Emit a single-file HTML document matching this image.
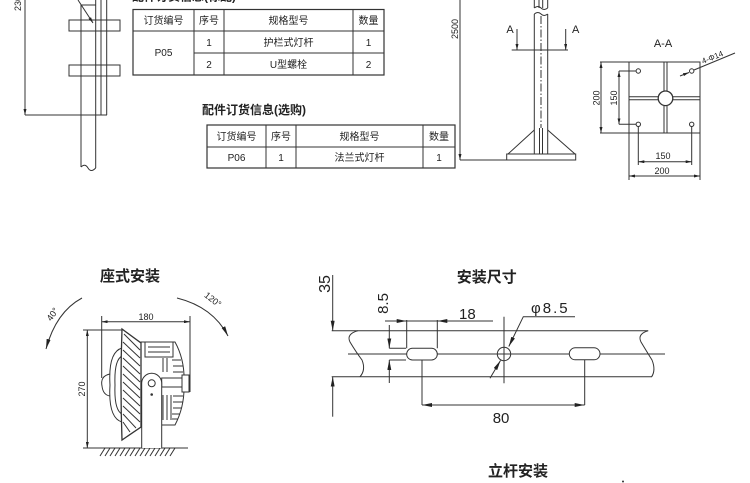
<!DOCTYPE html>
<html><head><meta charset="utf-8"><style>
html,body{margin:0;padding:0;background:#fff;}
svg{display:block;}
text{font-family:"Liberation Sans","Noto Sans CJK SC",sans-serif;fill:#222;}
</style></head><body>
<svg width="750" height="483" viewBox="0 0 750 483" xmlns="http://www.w3.org/2000/svg">
<defs>
<marker id="a" viewBox="0 0 10 4" refX="10" refY="2" markerWidth="10" markerHeight="4" orient="auto-start-reverse" markerUnits="userSpaceOnUse"><path d="M0,0L10,2L0,4z" fill="#222"/></marker>
<marker id="s" viewBox="0 0 6 3" refX="6" refY="1.5" markerWidth="6" markerHeight="3" orient="auto-start-reverse" markerUnits="userSpaceOnUse"><path d="M0,0L6,1.5L0,3z" fill="#222"/></marker>
</defs>

<g stroke="#333" stroke-width="1" fill="none">
<!-- top-left pole -->
<line x1="25" y1="0" x2="25" y2="115" marker-end="url(#s)"/>
<line x1="25" y1="115" x2="107" y2="115"/>
<path d="M81,167 V5 H95.7 M95.7,0 V168"/>
<path d="M101,0 V115 M106.7,0 V115"/>
<rect x="69" y="20" width="51" height="11"/>
<rect x="69" y="65" width="51" height="11"/>
<line x1="78" y1="0" x2="93" y2="23" marker-end="url(#s)"/>
<path d="M81,167 Q85,163 88,168 Q91,173 95.7,168"/>

<!-- table 1 -->
<rect x="133" y="9.5" width="251" height="65.5" stroke-width="1.2"/>
<line x1="133" y1="31" x2="384" y2="31"/>
<line x1="194" y1="53" x2="384" y2="53"/>
<line x1="194" y1="9.5" x2="194" y2="75"/>
<line x1="224" y1="9.5" x2="224" y2="75"/>
<line x1="353" y1="9.5" x2="353" y2="75"/>

<!-- table 2 -->
<rect x="207" y="125" width="248" height="43" stroke-width="1.2"/>
<line x1="207" y1="147" x2="455" y2="147"/>
<line x1="266" y1="125" x2="266" y2="168"/>
<line x1="296" y1="125" x2="296" y2="168"/>
<line x1="423" y1="125" x2="423" y2="168"/>

<!-- 2500 pole -->
<line x1="460" y1="0" x2="460" y2="160" marker-end="url(#s)"/>
<line x1="460" y1="160" x2="575.7" y2="160"/>
<path d="M534.3,0 V8 M547.7,0 V8 M539,0 V8 M542.7,0 V8"/>
<path d="M534.3,8 Q538,5 541,8 Q544,11 547.7,8"/>
<path d="M534.3,14 Q538,11 541,14 Q544,17 547.7,14"/>
<path d="M534.3,14 V154 M547.7,14 V154"/>
<line x1="541" y1="16" x2="541" y2="128" stroke-dasharray="8 2 1.5 2"/>
<path d="M539.5,128 V154 M542.5,128 V154"/>
<path d="M534.3,130 L508,154 M547.7,130 L575,154"/>
<rect x="506.7" y="154" width="69" height="6"/>
<line x1="511.7" y1="50" x2="568" y2="50"/>
<line x1="517" y1="29" x2="517" y2="50" marker-end="url(#s)"/>
<line x1="565.7" y1="29" x2="565.7" y2="50" marker-end="url(#s)"/>

<!-- A-A section -->
<rect x="629" y="62" width="71" height="71"/>
<line x1="600" y1="62" x2="629" y2="62"/>
<line x1="600" y1="133" x2="629" y2="133"/>
<path d="M664,62 V133 M667,62 V133 M629,96.8 H700 M629,99.8 H700"/>
<circle cx="665.5" cy="98.3" r="7.3" fill="#fff" stroke-width="1.3"/>
<circle cx="638.3" cy="71" r="2.2"/>
<circle cx="691.7" cy="71" r="2.2"/>
<circle cx="638.3" cy="124.3" r="2.2"/>
<circle cx="691.7" cy="124.3" r="2.2"/>
<line x1="601" y1="62" x2="601" y2="133" marker-start="url(#s)" marker-end="url(#s)"/>
<line x1="619" y1="71" x2="619" y2="124.3" marker-start="url(#s)" marker-end="url(#s)"/>
<path d="M619,71 H636 M619,124.3 H636"/>
<path d="M638.3,126.5 V165 M691.7,126.5 V165"/>
<line x1="638.3" y1="161.7" x2="691.7" y2="161.7" marker-start="url(#s)" marker-end="url(#s)"/>
<path d="M629,133 V180 M700,133 V180"/>
<line x1="629" y1="176" x2="700" y2="176" marker-start="url(#s)" marker-end="url(#s)"/>
<line x1="680" y1="76" x2="689" y2="72.5" marker-end="url(#s)"/>
<line x1="694" y1="70" x2="735" y2="53"/>

<!-- lamp (座式安装) -->
<path d="M82,298 Q56,312 46,349" marker-end="url(#a)"/>
<path d="M177,298 Q213,307 228,336" marker-end="url(#a)"/>
<line x1="101.7" y1="321.7" x2="190" y2="321.7" marker-start="url(#s)" marker-end="url(#s)"/>
<path d="M101.7,316 V378 M190,316 V392"/>
<line x1="87.3" y1="330" x2="87.3" y2="448" marker-start="url(#s)" marker-end="url(#s)"/>
<line x1="83" y1="330" x2="122" y2="330"/>
<line x1="83" y1="448" x2="188" y2="448"/>
<path d="M100,456 L105,448 M105,456 L110,448 M110,456 L115,448 M115,456 L120,448 M120,456 L125,448 M125,456 L130,448 M130,456 L135,448 M135,456 L140,448 M140,456 L145,448 M145,456 L150,448 M150,456 L155,448 M155,456 L160,448 M160,456 L165,448 M165,456 L170,448 M170,456 L175,448"/>
<!-- housing -->
<path d="M141,342 H175 Q185,360 184,383 Q185,406 175,425 H141 Z" fill="#fff"/>
<rect x="145" y="342" width="28" height="15"/>
<path d="M148,347 H170 M148,352 H170"/>
<path d="M172,360 H181 M173,366 H183 M173,372 H183 M173,396 H183 M173,402 H183 M173,408 H182 M172,414 H180 M172,419 H178"/>
<path d="M163,358 V372 M167,358 V372 M163,395 V420 M167,395 V420 M171,395 V420"/>
<!-- bowl + dome -->
<path d="M122,348 Q108,352 110,385 Q108,418 122,422"/>
<path d="M122,356 Q114,360 115,385 Q114,410 122,414"/>
<path d="M110,374 Q100,376 102,386 Q103,395 110,396"/>
<!-- reflector -->
<path d="M122,329 Q120,385 122,440 L141,427 L141,343 Z" fill="#fff" stroke-width="1.3"/>
<path d="M124,334 L140,350 M123,342 L140,358 M123,350 L140,366 M123,358 L140,374 M123,366 L140,382 M123,374 L140,390 M123,382 L140,398 M123,390 L140,406 M123,398 L140,414 M123,406 L140,422 M123,414 L136,428 M123,422 L130,432"/>
<!-- knob -->
<rect x="161.7" y="378" width="22" height="9" fill="#fff"/>
<rect x="182" y="375" width="7" height="17" fill="#fff"/>
<!-- bracket -->
<path d="M141.7,448 V383.3 A10,10 0 0 1 161.7,383.3 V448" fill="#fff"/>
<circle cx="151.7" cy="383.3" r="3.5"/>
<circle cx="151.7" cy="394.5" r="0.8" fill="#333"/>

<!-- 安装尺寸 -->
<path d="M331.7,330.7 H648 M331.7,376.7 H652"/>
<line x1="348" y1="354" x2="665" y2="354"/>
<path d="M358,330.7 Q346,334 350,342 Q356,352 362,360 Q366,370 360,376.7"/>
<path d="M648.3,330.7 Q637,334 641,342 Q647,352 652,360 Q656,370 651.7,376.7"/>
<line x1="332.7" y1="275" x2="332.7" y2="330.7" marker-end="url(#a)"/>
<line x1="332.7" y1="416.7" x2="332.7" y2="376.7" marker-end="url(#a)"/>
<rect x="406.7" y="348.3" width="30.6" height="11.7" rx="5.8" fill="#fff"/>
<rect x="569.3" y="347.8" width="30.7" height="12" rx="6" fill="#fff"/>
<path d="M406.7,320 V348.3 M437.3,320 V348.3"/>
<line x1="385" y1="321" x2="493" y2="321"/>
<line x1="395" y1="321" x2="406.7" y2="321" marker-end="url(#a)"/>
<line x1="450" y1="321" x2="437.3" y2="321" marker-end="url(#a)"/>
<line x1="389.3" y1="325" x2="389.3" y2="348.3" marker-end="url(#a)"/>
<line x1="389.3" y1="383" x2="389.3" y2="360" marker-end="url(#a)"/>
<path d="M389.3,348.3 H406 M389.3,360 H406"/>
<path d="M422,360 V405 M584.7,360 V405"/>
<line x1="422" y1="405" x2="584.7" y2="405" marker-start="url(#a)" marker-end="url(#a)"/>
<circle cx="504" cy="354" r="6.7"/>
<line x1="504" y1="316.7" x2="504" y2="383.3"/>
<path d="M575,316.7 H523.3 L508.8,346.5" marker-end="url(#a)"/>
<line x1="490" y1="378.3" x2="500.5" y2="360.5" marker-end="url(#a)"/>
</g>

<!-- texts -->
<text transform="translate(21,11) rotate(-90)" font-size="9">2300</text>
<text x="132" y="0.5" font-size="12" font-weight="bold">配件订货信息(标配)</text>
<g font-size="10" text-anchor="middle">
<text x="163.5" y="24" fill="#555">订货编号</text>
<text x="209" y="24" fill="#555">序号</text>
<text x="288.5" y="24" fill="#555">规格型号</text>
<text x="368.5" y="24" fill="#555">数量</text>
<text x="163.5" y="56">P05</text>
<text x="209" y="46">1</text>
<text x="288.5" y="46">护栏式灯杆</text>
<text x="368.5" y="46">1</text>
<text x="209" y="68">2</text>
<text x="288.5" y="68">U型螺栓</text>
<text x="368.5" y="68">2</text>
<text x="236.5" y="140" fill="#555">订货编号</text>
<text x="281" y="140" fill="#555">序号</text>
<text x="359.5" y="140" fill="#555">规格型号</text>
<text x="439" y="140" fill="#555">数量</text>
<text x="236.5" y="161">P06</text>
<text x="281" y="161">1</text>
<text x="359.5" y="161">法兰式灯杆</text>
<text x="439" y="161">1</text>
</g>
<text x="202" y="114" font-size="12" font-weight="bold">配件订货信息(选购)</text>

<text transform="translate(458,29) rotate(-90)" font-size="9" text-anchor="middle">2500</text>
<text x="510" y="33" font-size="11" text-anchor="middle">A</text>
<text x="575.7" y="33" font-size="11" text-anchor="middle">A</text>
<text x="663" y="47" font-size="11" text-anchor="middle">A-A</text>
<text transform="translate(599.5,98) rotate(-90)" font-size="9" text-anchor="middle">200</text>
<text transform="translate(617,98) rotate(-90)" font-size="9" text-anchor="middle">150</text>
<text x="663" y="159" font-size="9" text-anchor="middle">150</text>
<text x="662" y="174" font-size="9" text-anchor="middle">200</text>
<text transform="translate(703,64) rotate(-22)" font-size="8">4-Φ14</text>

<text x="100" y="281" font-size="15" font-weight="bold">座式安装</text>
<text transform="translate(55,316) rotate(-55)" font-size="9" text-anchor="middle">40°</text>
<text transform="translate(211,302) rotate(38)" font-size="9" text-anchor="middle">120°</text>
<text x="146" y="320" font-size="9" text-anchor="middle">180</text>
<text transform="translate(85,389) rotate(-90)" font-size="9" text-anchor="middle">270</text>

<text x="456.7" y="282" font-size="15" font-weight="bold">安装尺寸</text>
<text transform="translate(330,284) rotate(-90)" font-size="16" text-anchor="middle">35</text>
<text transform="translate(388,303.5) rotate(-90)" font-size="15" text-anchor="middle">8.5</text>
<text x="459" y="319" font-size="15">18</text>
<text x="492.7" y="423" font-size="15">80</text>
<text x="531" y="313" font-size="15" letter-spacing="2">φ8.5</text>

<text x="488" y="476" font-size="15" font-weight="bold">立杆安装</text>
<circle cx="623" cy="481.5" r="1" fill="#333"/>
</svg>
</body></html>
